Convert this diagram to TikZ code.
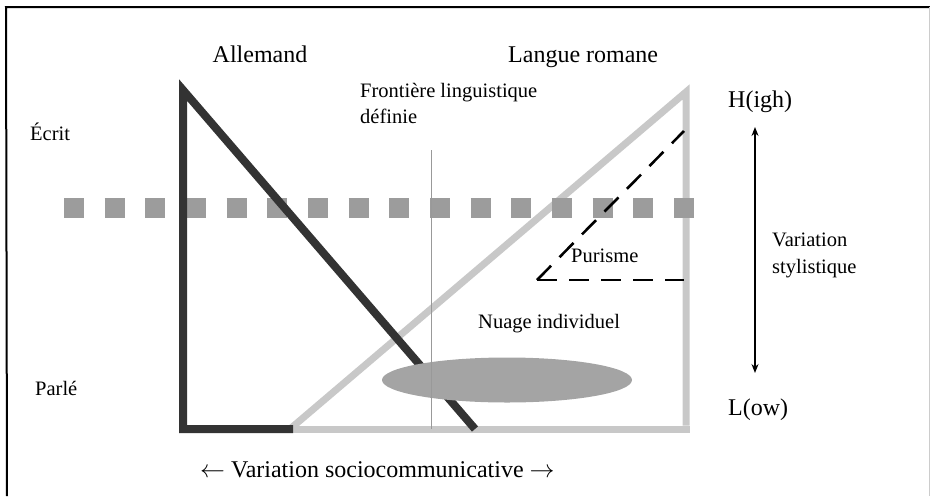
\documentclass[tikz,border=0pt]{standalone}
\usepackage{fontspec}
\setmainfont{Liberation Serif}
\usetikzlibrary{arrows.meta,shapes.geometric}
\definecolor{darkline}{HTML}{333333}
\definecolor{lightline}{HTML}{C8C8C8}
\definecolor{squaregray}{HTML}{9C9C9C}
\definecolor{cloudgray}{HTML}{A4A4A4}
\tikzset{
  big/.style={font=\fontsize{24}{28}\selectfont, inner sep=0pt},
  small/.style={font=\fontsize{20.5}{24}\selectfont, inner sep=0pt},
  darktri/.style={draw=darkline, line width=8pt, line join=miter},
  lighttri/.style={draw=lightline, line width=7pt, line join=miter},
  squareline/.style={draw=squaregray, line width=20pt, dash pattern=on 20pt off 20.67pt},
  purline/.style={draw=black, line width=2.6pt, dash pattern=on 20pt off 12pt},
  frontline/.style={draw=gray!80, line width=0.8pt},
  styarrow/.style={draw=black, line width=1.4pt, {Stealth[length=9pt,width=7pt]}-{Stealth[length=9pt,width=7pt]}}
}
\begin{document}
\begin{tikzpicture}[x=1pt,y=-1pt]
\useasboundingbox (0,0) rectangle (930,496);
% frame
\coordinate (fTL) at (6,7);
\coordinate (fTR) at (930,7);
\coordinate (fBL) at (7,496);
\draw[line width=2pt] (fTR) -- (fTL) -- (fBL);
\draw[gray!40, line width=1pt] (929,7) -- (929,496);
% coordinates
\coordinate (dTop) at (183,90);
\coordinate (dBL) at (183,429);
\coordinate (dBR) at (293,429);
\coordinate (dDiag) at (475,429);
\coordinate (lBL) at (290,429);
\coordinate (lTop) at (686,92);
\coordinate (lBR) at (686,429);
\coordinate (sqA) at (64,208);
\coordinate (sqB) at (694,208);
\coordinate (frTop) at (431,150);
\coordinate (frBot) at (431,429);
\coordinate (pA) at (537,280);
\coordinate (pB) at (684,131);
\coordinate (pC) at (684,280);
\coordinate (arTop) at (755,127);
\coordinate (arBot) at (755,373);
% light triangle
\draw[lighttri] (lBL) -- (lTop) -- ([yshift=3.5pt]lBR) ;
\draw[lighttri] (lBL) -- ([xshift=3.5pt]lBR);
% squares
\draw[squareline] (sqA) -- (sqB);
% dark triangle
\draw[darktri] (dDiag) -- (dTop) -- (dBL) -- (dBR);
% cloud
\node[ellipse, fill=cloudgray, minimum width=250pt, minimum height=45pt, inner sep=0pt] (cloud) at (507,380) {};
% frontier line
\draw[frontline] (frTop) -- (frBot);
% purisme
\draw[purline] (pA) -- (pB);
\draw[purline] (pA) -- (pC);
% stylistic arrow
\draw[styarrow] (arTop) -- (arBot);
% texts
\node[big, anchor=base] (allemand) at (260,62) {Allemand};
\node[big, anchor=base west] (romane) at (508,62) {Langue romane};
\node[small, anchor=base west] (front1) at (360,97) {Frontière linguistique};
\node[small, anchor=base west] (front2) at (360,123) {définie};
\node[small, anchor=base west] (ecrit) at (30,140) {Écrit};
\node[small, anchor=base west] (parle) at (35,395) {Parlé};
\node[big, anchor=base west] (high) at (728,107) {H(igh)};
\node[big, anchor=base west] (low) at (728,415) {L(ow)};
\node[small, anchor=base west] (var1) at (772,246) {Variation};
\node[small, anchor=base west] (var2) at (772,273) {stylistique};
\node[small, anchor=base west] (puris) at (571,262) {Purisme};
\node[small, anchor=base west] (nuage) at (478,328) {Nuage individuel};
\node[big, anchor=base west] (socio) at (200,477) {$\leftarrow$ Variation sociocommunicative $\rightarrow$};
\end{tikzpicture}
\end{document}
